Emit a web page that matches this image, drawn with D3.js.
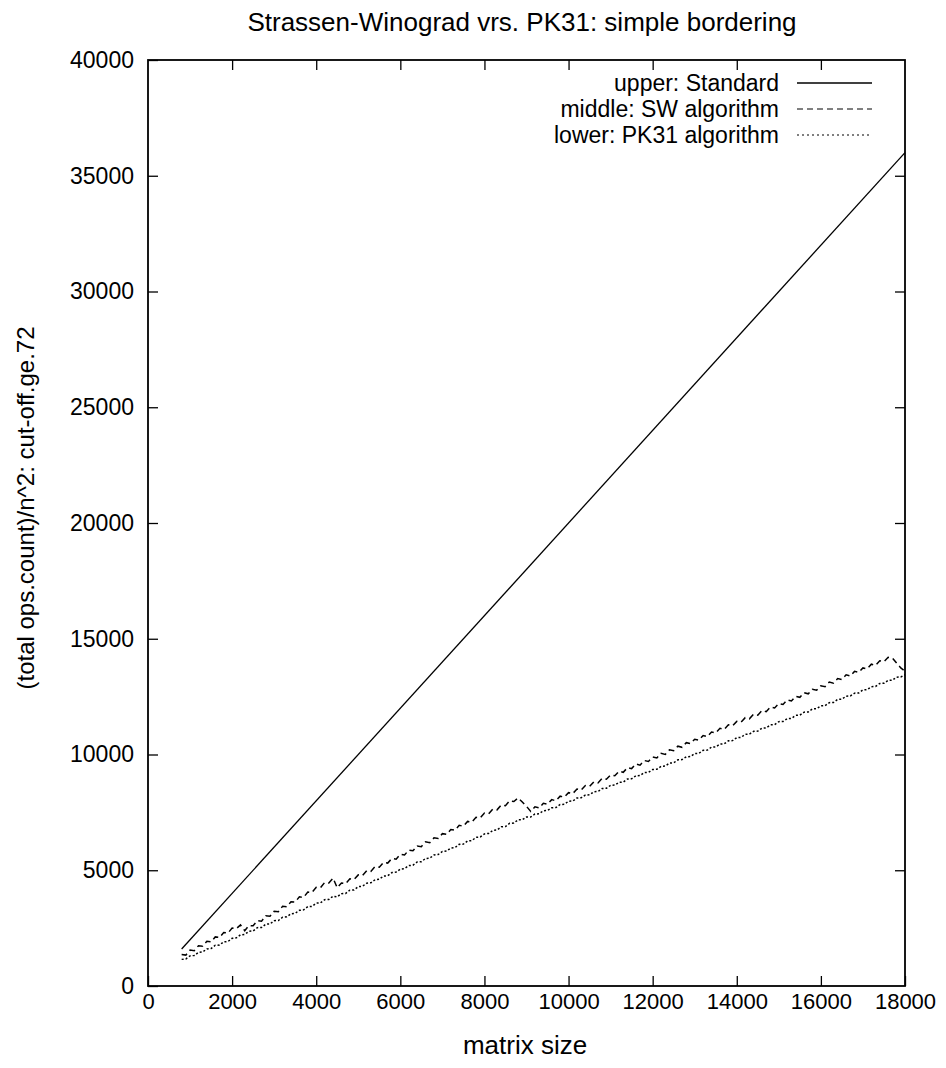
<!DOCTYPE html>
<html>
<head>
<meta charset="utf-8">
<script src="https://cdn.jsdelivr.net/npm/d3@7"></script>
<style>
    body { margin: 0; background: #fff; }
    text { font-family: "Liberation Sans", Arial, sans-serif; fill: #000; }
</style>
</head>
<body>
<div id="chart"></div>
<script>

// matrix sizes sampled every 100 from 800 to 18000
const matrixSizes = d3.range(800, 18001, 100);

// upper: standard algorithm (straight line)
const standardSizes = [800, 18000];
const standardOps = [1600, 36000];

// middle: SW algorithm
const swOps = [
    1360, 1335, 1550, 1525, 1740, 1715, 1930, 1905, 2120, 2095, 2310, 2285, 2500, 2475, 2640,
    2390, 2610, 2600, 2820, 2800, 3030, 3010, 3230, 3210, 3440, 3420, 3640, 3630, 3850, 3830, 4060, 4040, 4260, 4240, 4470, 4450, 4660,
    4240, 4450, 4420, 4630, 4600, 4800, 4770, 4980, 4950, 5160, 5130, 5340, 5310, 5510, 5480, 5690, 5660, 5870, 5840, 6050, 6020, 6230,
    6190, 6400, 6370, 6580, 6550, 6760, 6730, 6940, 6900, 7110, 7080, 7290, 7260, 7470, 7440, 7650, 7610, 7820, 7790, 8000, 7970, 8120,
    7950, 7760,
    7540, 7740, 7690, 7890, 7850, 8050, 8000, 8200, 8160, 8350, 8310, 8510, 8460, 8660, 8620, 8820, 8770, 8970, 8930, 9120,
    9080, 9280, 9230, 9430, 9390, 9590, 9540, 9740, 9700, 9890, 9850, 10050, 10000, 10200, 10160, 10360, 10310, 10510, 10470, 10660,
    10620, 10820, 10770, 10970, 10930, 11130, 11080, 11280, 11240, 11430, 11390, 11590, 11540, 11740, 11700, 11900, 11850, 12050, 12010, 12200,
    12160, 12360, 12310, 12510, 12470, 12670, 12620, 12820, 12780, 12970, 12930, 13130, 13080, 13280, 13240, 13440, 13390, 13590, 13550, 13740,
    13700, 13900, 13850, 14050, 14010, 14200,
    14170, 13950, 13740, 13600
];

// lower: PK31 algorithm
const pk31Ops = [
    1150, 1170, 1300, 1320, 1450, 1470, 1600, 1620, 1760, 1770, 1910, 1920, 2060, 2080, 2210, 2230, 2360, 2380, 2520, 2530,
    2670, 2680, 2820, 2830, 2970, 2990, 3120, 3140, 3270, 3290, 3430, 3440, 3580, 3590, 3730, 3740, 3880,
    3850, 3990, 4000, 4140, 4150, 4290, 4310, 4440, 4460, 4590, 4610, 4750, 4760, 4900, 4920, 5050, 5070, 5200, 5220, 5360,
    5370, 5510, 5520, 5660, 5680, 5810, 5830, 5960, 5980, 6120, 6130, 6270, 6280, 6420, 6440, 6570, 6590, 6720, 6740, 6880,
    6890, 7030, 7040, 7180,
    7180, 7300,
    7300, 7430, 7440, 7570, 7580, 7700, 7710, 7840, 7850, 7980, 7990, 8120, 8130, 8250, 8260, 8390, 8400, 8530, 8540, 8670,
    8680, 8800, 8810, 8940, 8950, 9080, 9090, 9220, 9230, 9350, 9360, 9490, 9500, 9630, 9640, 9770, 9780, 9900, 9910, 10040,
    10050, 10180, 10190, 10320, 10330, 10450, 10460, 10590, 10600, 10730, 10740, 10870, 10880, 11000, 11010, 11140, 11150, 11280, 11290, 11420,
    11430, 11550, 11560, 11690, 11700, 11830, 11840, 11970, 11980, 12100, 12110, 12240, 12250, 12380, 12390, 12520, 12530, 12650, 12660, 12790,
    12800, 12930, 12940, 13070, 13080, 13200, 13210, 13340, 13350, 13450
];

const xTicks = [0, 2000, 4000, 6000, 8000, 10000, 12000, 14000, 16000, 18000];
const yTicks = [0, 5000, 10000, 15000, 20000, 25000, 30000, 35000, 40000];

const legendLabels = ["upper: Standard", "middle: SW algorithm", "lower: PK31 algorithm"];

class OpsCountChart {

    constructor(parentElement) {
        this.parentElement = parentElement;
        this.initVis();
    }

    initVis() {
        let vis = this;

        vis.margin = { top: 60, right: 41, bottom: 82, left: 148 };
        vis.width = 946 - vis.margin.left - vis.margin.right;
        vis.height = 1068 - vis.margin.top - vis.margin.bottom;

        vis.root = d3.select("#" + vis.parentElement).append("svg")
            .attr("width", 946)
            .attr("height", 1068);

        vis.svg = vis.root.append("g")
            .attr("transform", "translate(" + vis.margin.left + "," + vis.margin.top + ")");

        vis.x = d3.scaleLinear().domain([0, 18000]).range([0, vis.width]);
        vis.y = d3.scaleLinear().domain([0, 40000]).range([vis.height, 0]);

        // axes, ticks pointing inwards like gnuplot
        let bottom = vis.svg.append("g")
            .attr("transform", "translate(0," + vis.height + ")")
            .call(d3.axisBottom(vis.x).tickValues(xTicks).tickFormat(d3.format("d"))
                .tickSizeInner(-10).tickSizeOuter(0).tickPadding(7));
        let left = vis.svg.append("g")
            .call(d3.axisLeft(vis.y).tickValues(yTicks).tickFormat(d3.format("d"))
                .tickSizeInner(-10).tickSizeOuter(0).tickPadding(14));
        let top = vis.svg.append("g")
            .call(d3.axisTop(vis.x).tickValues(xTicks.slice(1, -1)).tickFormat("")
                .tickSizeInner(-10).tickSizeOuter(0));
        let right = vis.svg.append("g")
            .attr("transform", "translate(" + vis.width + ",0)")
            .call(d3.axisRight(vis.y).tickValues(yTicks.slice(1, -1)).tickFormat("")
                .tickSizeInner(-10).tickSizeOuter(0));

        [bottom, left, top, right].forEach(g => {
            g.attr("font-family", null);
            g.select(".domain").remove();
            g.selectAll("line").attr("stroke", "#000").attr("stroke-width", 1.3);
            g.selectAll("text").attr("fill", "#000");
        });
        bottom.selectAll("text").style("font-size", "22px");
        left.selectAll("text").style("font-size", "23px");

        vis.svg.append("rect")
            .attr("width", vis.width)
            .attr("height", vis.height)
            .attr("fill", "none")
            .attr("stroke", "#000")
            .attr("stroke-width", 1.8);

        // titles
        vis.root.append("text")
            .attr("x", 522)
            .attr("y", 31)
            .attr("text-anchor", "middle")
            .style("font-size", "26px")
            .text("Strassen-Winograd vrs. PK31: simple bordering");

        vis.root.append("text")
            .attr("x", 525)
            .attr("y", 1054)
            .attr("text-anchor", "middle")
            .style("font-size", "26px")
            .text("matrix size");

        vis.root.append("text")
            .attr("transform", "translate(34,508) rotate(-90)")
            .attr("text-anchor", "middle")
            .style("font-size", "24px")
            .text("(total ops.count)/n^2: cut-off.ge.72");

        vis.line = d3.line()
            .x(d => vis.x(d[0]))
            .y(d => vis.y(d[1]));

        vis.series = [
            { label: legendLabels[0], points: d3.zip(standardSizes, standardOps), dash: null, width: 1.3 },
            { label: legendLabels[1], points: d3.zip(matrixSizes, swOps), dash: "6,4", width: 1.5 },
            { label: legendLabels[2], points: d3.zip(matrixSizes, pk31Ops), dash: "2,2", width: 1.5 }
        ];

        vis.updateVis();
    }

    updateVis() {
        let vis = this;

        vis.svg.selectAll("path.series")
            .data(vis.series)
            .enter()
            .append("path")
            .attr("class", "series")
            .attr("d", d => vis.line(d.points))
            .attr("fill", "none")
            .attr("stroke", "#000")
            .attr("stroke-width", d => d.width)
            .attr("stroke-dasharray", d => d.dash);

        // legend
        let legend = vis.svg.selectAll("g.legend")
            .data(vis.series)
            .enter()
            .append("g")
            .attr("class", "legend")
            .attr("transform", (d, i) => "translate(0," + (23 + i * 26) + ")");

        legend.append("text")
            .attr("x", 631)
            .attr("dy", "0.36em")
            .attr("text-anchor", "end")
            .style("font-size", "23px")
            .text(d => d.label);

        legend.append("line")
            .attr("x1", 649)
            .attr("x2", 724)
            .attr("stroke", "#000")
            .attr("stroke-width", d => d.dash ? 1 : 1.3)
            .attr("stroke-dasharray", (d, i) => i == 2 ? "2,3" : d.dash);
    }
}

new OpsCountChart("chart");

</script>
</body>
</html>
